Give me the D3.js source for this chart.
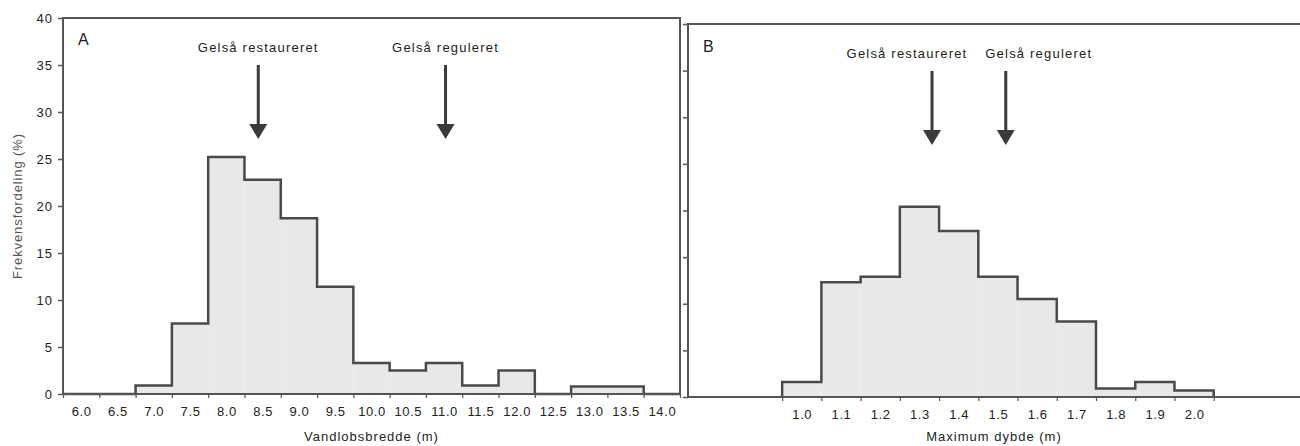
<!DOCTYPE html>
<html>
<head>
<meta charset="utf-8">
<script src="https://cdn.jsdelivr.net/npm/d3@7/dist/d3.min.js"></script>
<style>
	html, body { margin: 0; padding: 0; background: #fff; }
	svg { display: block; font-family: "Liberation Sans", Arial, sans-serif; }
</style>
</head>
<body>
<div id="chart"></div>
<script>
// panel A: stream width classes (m) and frequency (%)
var widthClasses = [6.0, 6.5, 7.0, 7.5, 8.0, 8.5, 9.0, 9.5, 10.0, 10.5, 11.0, 11.5, 12.0, 12.5, 13.0, 13.5, 14.0];
var widthFreq    = [0, 0, 0.9, 7.5, 25.2, 22.8, 18.7, 11.4, 3.3, 2.5, 3.3, 0.9, 2.5, 0, 0.8, 0.8, 0];
var widthArrows  = [{ name: "Gelså restaureret", value: 8.44 }, { name: "Gelså reguleret", value: 11.02 }];

// panel B: maximum depth classes (m) and frequency (%)
var depthClasses = [1.0, 1.1, 1.2, 1.3, 1.4, 1.5, 1.6, 1.7, 1.8, 1.9, 2.0];
var depthFreq    = [1.6, 12.3, 12.9, 20.4, 17.8, 12.9, 10.5, 8.1, 0.9, 1.6, 0.7];
var depthArrows  = [{ name: "Gelså restaureret", value: 1.332 }, { name: "Gelså reguleret", value: 1.52 }];

var yTicks = [0, 5, 10, 15, 20, 25, 30, 35, 40];

var W = 1300, H = 446;
var lineColor = "#555";
var fillColor = "#e8e8e8";
var textColor = "#222";

var svg = d3.select("#chart").append("svg")
	.attr("width", W)
	.attr("height", H);

/**
 * Draws one histogram panel.
 */
function drawPanel(opts)
{
	var half = opts.step / 2;
	var n = opts.classes.length;

	var x = d3.scaleLinear()
		.domain(opts.xDomain)
		.range([opts.left, opts.right]);

	var y = d3.scaleLinear()
		.domain([0, 40])
		.range([opts.bottom, opts.top]);

	var g = svg.append("g");

	// bar fill
	g.selectAll("rect.bar")
		.data(opts.classes)
		.enter().append("rect")
		.attr("class", "bar")
		.attr("x", function(d) { return x(d - half); })
		.attr("width", function(d) { return x(d + half) - x(d - half); })
		.attr("y", function(d, i) { return y(opts.values[i]); })
		.attr("height", function(d, i) { return y(0) - y(opts.values[i]); })
		.attr("fill", fillColor);

	// step outline
	var pts = [[opts.classes[0] - half, 0]];
	opts.classes.forEach(function(c, i) {
		pts.push([c - half, opts.values[i]]);
		pts.push([c + half, opts.values[i]]);
	});
	pts.push([opts.classes[n - 1] + half, 0]);

	var line = d3.line()
		.x(function(d) { return x(d[0]); })
		.y(function(d) { return y(d[1]); });

	g.append("path")
		.attr("d", line(pts))
		.attr("fill", "none")
		.attr("stroke", "#4a4a4a")
		.attr("stroke-width", 2.5)
		.attr("stroke-linejoin", "miter");

	// frame
	g.append("rect")
		.attr("x", opts.left)
		.attr("y", opts.top)
		.attr("width", opts.frameRight - opts.left)
		.attr("height", opts.bottom - opts.top)
		.attr("fill", "none")
		.attr("stroke", lineColor)
		.attr("stroke-width", 2);

	// y axis
	var yAxis = d3.axisLeft(y)
		.tickValues(yTicks)
		.tickSize(5)
		.tickPadding(5)
		.tickFormat(opts.yLabels ? d3.format("d") : "");

	var ya = g.append("g")
		.attr("transform", "translate(" + opts.left + ",0)")
		.call(yAxis);
	ya.select(".domain").remove();
	ya.selectAll("line").attr("stroke", lineColor).attr("stroke-width", 1.5);
	ya.selectAll("text")
		.attr("fill", textColor)
		.style("font-size", "13px")
		.style("letter-spacing", "1px");

	// x axis: tick marks on class edges
	var edges = opts.classes.map(function(c) { return c - half; });
	edges.push(opts.classes[n - 1] + half);

	var xEdge = g.append("g")
		.attr("transform", "translate(0," + opts.bottom + ")")
		.call(d3.axisBottom(x).tickValues(edges).tickSize(4).tickFormat(""));
	xEdge.select(".domain").remove();
	xEdge.selectAll("line").attr("stroke", lineColor).attr("stroke-width", 1.2);

	// x axis: labels at class centres
	var xLab = g.append("g")
		.attr("transform", "translate(0," + opts.bottom + ")")
		.call(d3.axisBottom(x).tickValues(opts.classes).tickSize(0).tickPadding(13)
			.tickFormat(d3.format(".1f")));
	xLab.select(".domain").remove();
	xLab.selectAll("text")
		.attr("fill", textColor)
		.style("font-size", "13px")
		.style("letter-spacing", "0.6px");

	// axis titles
	g.append("text")
		.attr("x", (opts.left + opts.right) / 2)
		.attr("y", 441)
		.attr("text-anchor", "middle")
		.attr("fill", textColor)
		.style("font-size", "13px")
		.style("letter-spacing", "1px")
		.text(opts.xTitle);

	if (opts.yTitle) {
		g.append("text")
			.attr("transform", "translate(22," + ((opts.top + opts.bottom) / 2) + ") rotate(-90)")
			.attr("text-anchor", "middle")
			.attr("fill", "#555")
			.style("font-size", "13px")
			.style("letter-spacing", "0.9px")
			.text(opts.yTitle);
	}

	// panel letter
	g.append("text")
		.attr("x", opts.left + opts.letterDx)
		.attr("y", opts.top + opts.letterDy)
		.attr("fill", textColor)
		.style("font-size", "16px")
		.text(opts.letter);

	// arrows with labels
	opts.arrows.forEach(function(a, i) {
		var ax = x(a.value);

		g.append("text")
			.attr("x", ax + opts.labelDx[i])
			.attr("y", opts.top + 34)
			.attr("text-anchor", "middle")
			.attr("fill", textColor)
			.style("font-size", "13px")
			.style("letter-spacing", "1.2px")
			.text(a.name);

		g.append("line")
			.attr("x1", ax).attr("x2", ax)
			.attr("y1", opts.top + 47)
			.attr("y2", opts.top + 110)
			.attr("stroke", "#3a3a3a")
			.attr("stroke-width", 3);

		g.append("path")
			.attr("d", "M" + (ax - 9) + "," + (opts.top + 106) +
				"L" + (ax + 9) + "," + (opts.top + 106) +
				"L" + ax + "," + (opts.top + 121) + "Z")
			.attr("fill", "#3a3a3a");
	});
}

drawPanel({
	classes: widthClasses,
	values: widthFreq,
	step: 0.5,
	xDomain: [5.75, 14.25],
	left: 63, right: 680, frameRight: 680,
	top: 18, bottom: 394,
	yLabels: true,
	xTitle: "Vandlobsbredde (m)",
	yTitle: "Frekvensfordeling (%)",
	letter: "A", letterDx: 15, letterDy: 27,
	arrows: widthArrows,
	labelDx: [0, 0]
});

drawPanel({
	classes: depthClasses,
	values: depthFreq,
	step: 0.1,
	xDomain: [0.71, 2.27],
	left: 688, right: 1300, frameRight: 1304,
	top: 24, bottom: 397,
	yLabels: false,
	xTitle: "Maximum dybde (m)",
	yTitle: null,
	letter: "B", letterDx: 15, letterDy: 28,
	arrows: depthArrows,
	labelDx: [-25, 33]
});
</script>
</body>
</html>
